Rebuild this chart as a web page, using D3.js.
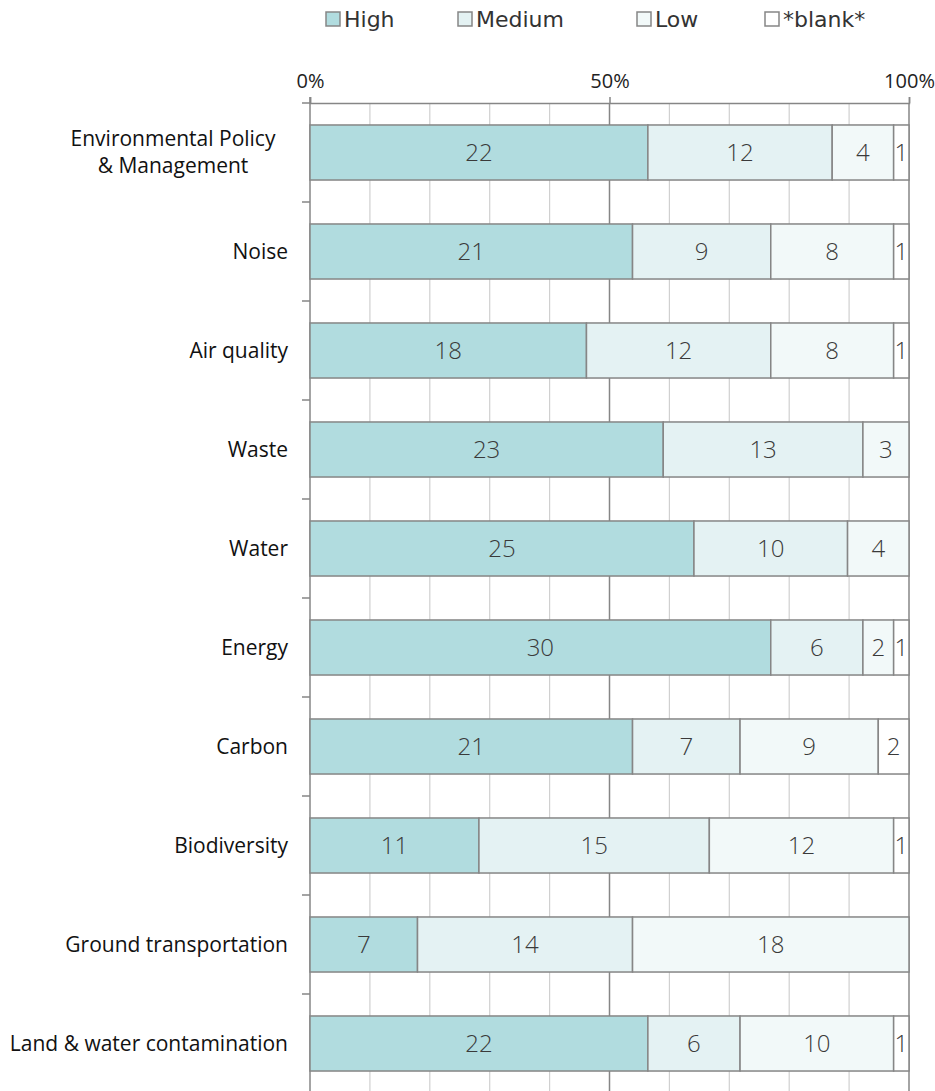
<!DOCTYPE html>
<html lang="en">
<head>
    <meta charset="UTF-8">
    <title>Environmental priorities</title>
    <script src="https://d3js.org/d3.v7.min.js"></script>
    <style>
        body {
            margin: 0;
            padding: 0;
            background-color: #ffffff;
        }
        svg {
            display: block;
        }
    </style>
</head>
<body>
    <svg></svg>

    <script>
        // chart data
        const categories = [
            "Environmental Policy & Management",
            "Noise",
            "Air quality",
            "Waste",
            "Water",
            "Energy",
            "Carbon",
            "Biodiversity",
            "Ground transportation",
            "Land & water contamination"
        ];
        const seriesNames = ["High", "Medium", "Low", "*blank*"];
        const high   = [22, 21, 18, 23, 25, 30, 21, 11, 7, 22];
        const medium = [12, 9, 12, 13, 10, 6, 7, 15, 14, 6];
        const low    = [4, 8, 8, 3, 4, 2, 9, 12, 18, 10];
        const blank  = [1, 1, 1, 0, 0, 1, 2, 1, 0, 1];
        const xTicks = [0, 0.5, 1];
        const gridTicks = [0.1, 0.2, 0.3, 0.4, 0.6, 0.7, 0.8, 0.9];

        const colors = ["#b1dcdf", "#e4f2f3", "#f2f9f9", "#ffffff"];

        const width = 935;
        const height = 1091;
        const margin = { top: 103, left: 310, right: 26, bottom: -2 };

        const valueFont = "'Liberation Sans Narrow', 'Open Sans', sans-serif";

        const svg = d3.select("svg")
            .attr("width", width)
            .attr("height", height);

        const rows = categories.map((c, i) => {
            const vals = [high[i], medium[i], low[i], blank[i]];
            return { category: c, values: vals, total: d3.sum(vals) };
        });

        const x = d3.scaleLinear()
            .domain([0, 1])
            .range([margin.left, width - margin.right]);

        const y = d3.scaleBand()
            .domain(categories)
            .range([margin.top, height - margin.bottom])
            .paddingInner(0.444)
            .paddingOuter(0.222);

        const step = y.step();

        // minor gridlines
        svg.append("g")
            .selectAll("line")
            .data(gridTicks)
            .join("line")
            .attr("x1", d => x(d))
            .attr("x2", d => x(d))
            .attr("y1", margin.top)
            .attr("y2", height)
            .attr("stroke", "#d0d0d0")
            .attr("stroke-width", 1.2);

        // major gridlines
        svg.append("g")
            .selectAll("line")
            .data([0.5, 1])
            .join("line")
            .attr("x1", d => x(d))
            .attr("x2", d => x(d))
            .attr("y1", margin.top)
            .attr("y2", height)
            .attr("stroke", "#868686")
            .attr("stroke-width", 1.5);

        // top axis
        const xAxis = d3.axisTop(x)
            .tickValues(xTicks)
            .tickSize(6)
            .tickFormat(d3.format(".0%"));

        const xAxisGroup = svg.append("g")
            .attr("transform", `translate(0,${margin.top})`)
            .call(xAxis);

        xAxisGroup.select(".domain")
            .attr("stroke", "#868686")
            .attr("stroke-width", 1.5);
        xAxisGroup.selectAll(".tick line")
            .attr("stroke", "#868686")
            .attr("stroke-width", 1.5);
        xAxisGroup.selectAll(".tick text")
            .attr("y", -15)
            .style("font-family", valueFont)
            .style("font-size", "20px")
            .style("fill", "#222222");

        // left axis line and boundary ticks
        svg.append("line")
            .attr("x1", margin.left)
            .attr("x2", margin.left)
            .attr("y1", margin.top - 6)
            .attr("y2", height)
            .attr("stroke", "#868686")
            .attr("stroke-width", 1.5);

        const boundaries = d3.range(categories.length + 1).map(i => margin.top + i * step);
        svg.append("g")
            .selectAll("line")
            .data(boundaries)
            .join("line")
            .attr("x1", margin.left - 8)
            .attr("x2", margin.left)
            .attr("y1", d => d)
            .attr("y2", d => d)
            .attr("stroke", "#868686")
            .attr("stroke-width", 1.5);

        // stacked segments
        const segments = [];
        rows.forEach(r => {
            let acc = 0;
            r.values.forEach((v, k) => {
                if (v > 0) {
                    segments.push({
                        category: r.category,
                        series: k,
                        value: v,
                        x0: acc / r.total,
                        x1: (acc + v) / r.total
                    });
                }
                acc += v;
            });
        });

        svg.append("g")
            .selectAll("rect")
            .data(segments)
            .join("rect")
            .attr("x", d => x(d.x0))
            .attr("y", d => y(d.category))
            .attr("width", d => x(d.x1) - x(d.x0))
            .attr("height", y.bandwidth())
            .attr("fill", d => colors[d.series])
            .attr("stroke", "#868686")
            .attr("stroke-width", 1.5);

        svg.append("g")
            .selectAll("text")
            .data(segments)
            .join("text")
            .attr("x", d => (x(d.x0) + x(d.x1)) / 2)
            .attr("y", d => y(d.category) + y.bandwidth() / 2)
            .attr("dy", "0.36em")
            .attr("text-anchor", "middle")
            .style("font-family", valueFont)
            .style("font-weight", 300)
            .style("font-size", "24px")
            .style("fill", "#3a3a3a")
            .text(d => d.value);

        // category labels
        const catLabels = svg.append("g")
            .style("font-family", "'Open Sans', sans-serif")
            .style("font-size", "21px")
            .style("fill", "#111111");

        const wrapped = {
            "Environmental Policy & Management": ["Environmental Policy", "& Management"]
        };

        categories.forEach(c => {
            const cy = y(c) + y.bandwidth() / 2;
            const lines = wrapped[c] || [c];
            const multi = lines.length > 1;
            const t = catLabels.append("text")
                .attr("text-anchor", multi ? "middle" : "end");
            lines.forEach((line, j) => {
                t.append("tspan")
                    .attr("x", multi ? 173 : 288)
                    .attr("y", cy + (j - (lines.length - 1) / 2) * 27)
                    .attr("dy", "0.35em")
                    .text(line);
            });
        });

        // legend
        const legendX = [326, 458, 637, 765];
        const legend = svg.append("g")
            .selectAll("g")
            .data(seriesNames)
            .join("g")
            .attr("transform", (d, i) => `translate(${legendX[i]},19)`);

        legend.append("rect")
            .attr("x", 0)
            .attr("y", -7)
            .attr("width", 14)
            .attr("height", 14)
            .attr("fill", (d, i) => colors[i])
            .attr("stroke", "#868686")
            .attr("stroke-width", 1.5);

        legend.append("text")
            .attr("x", 18)
            .attr("y", 0)
            .attr("dy", "0.35em")
            .style("font-family", "'DejaVu Sans', sans-serif")
            .style("font-size", "22px")
            .style("fill", "#333333")
            .text(d => d);
    </script>
</body>
</html>
